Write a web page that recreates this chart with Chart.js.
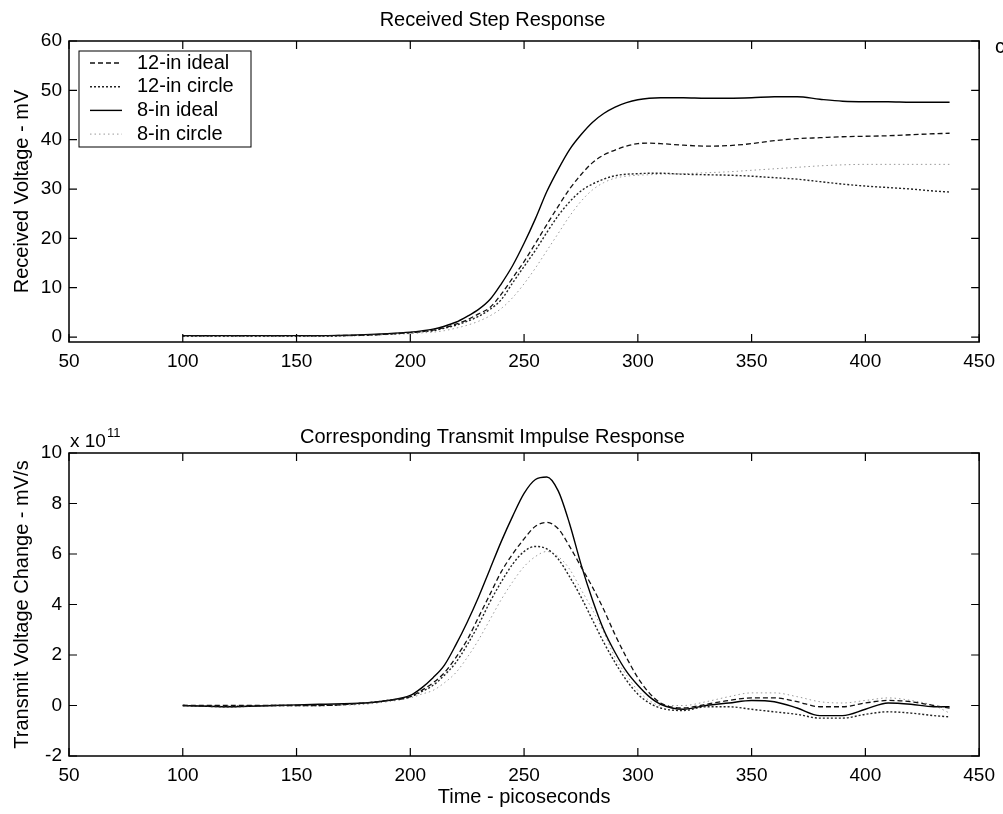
<!DOCTYPE html>
<html>
<head>
<meta charset="utf-8">
<script src="https://cdn.jsdelivr.net/npm/chart.js@4.4.1/dist/chart.umd.min.js"></script>
<style>
  body { margin: 0; background: #fff; }
  #wrap { position: relative; width: 1003px; height: 814px; }
  canvas { position: absolute; left: 0; }
  #topChart { top: 0; }
  #bottomChart { top: 400px; }
</style>
</head>
<body>
<div id="wrap">
  <canvas id="topChart" width="1003" height="400"></canvas>
  <canvas id="bottomChart" width="1003" height="414"></canvas>
</div>
<script>
// time axis, picoseconds
const time = [100,120,140,160,180,190,200,205,210,215,220,225,230,235,240,245,250,255,260,265,270,275,280,285,290,295,300,305,310,320,330,340,350,360,370,380,390,400,410,420,430,437]

const labels = ['12-in ideal', '12-in circle', '8-in ideal', '8-in circle']

// received step response, mV
const step12Ideal = [0.3,0.3,0.3,0.3,0.4,0.6,0.9,1.1,1.4,1.9,2.6,3.5,4.7,6.0,8.7,12.0,15.3,19.0,22.8,26.5,30.0,32.9,35.3,36.9,37.9,38.7,39.2,39.3,39.2,38.9,38.7,38.8,39.2,39.8,40.2,40.4,40.6,40.7,40.8,41.0,41.2,41.3]
const step12Circle = [0.2,0.2,0.2,0.2,0.4,0.6,0.9,1.1,1.3,1.8,2.4,3.2,4.2,5.6,7.6,11.0,14.3,17.6,21.2,24.6,27.4,29.6,31.0,32.0,32.7,33.0,33.1,33.2,33.2,33.0,32.9,32.8,32.6,32.3,32.0,31.5,31.0,30.6,30.3,30.0,29.6,29.4]
const step8Ideal = [0.3,0.3,0.3,0.3,0.5,0.7,1.0,1.25,1.6,2.2,3.0,4.2,5.6,7.6,10.8,14.5,19.0,24.0,29.5,34.0,38.0,41.0,43.5,45.3,46.6,47.5,48.1,48.4,48.5,48.5,48.4,48.4,48.5,48.7,48.7,48.2,47.8,47.7,47.7,47.6,47.6,47.6]
const step8Circle = [0.1,0.1,0.1,0.1,0.3,0.5,0.7,0.85,1.0,1.3,1.8,2.4,3.2,4.3,5.8,8.0,10.8,14.0,17.5,21.0,24.5,27.5,29.8,31.3,32.2,32.6,32.8,32.9,33.0,33.1,33.3,33.5,33.8,34.1,34.4,34.7,34.9,35.0,35.0,35.0,35.0,35.0]

// transmit impulse response, x 10^11 mV/s
const impulse12Ideal = [0.0,0.0,0.0,0.0,0.1,0.2,0.35,0.6,0.9,1.3,1.9,2.6,3.5,4.4,5.3,6.0,6.6,7.1,7.25,7.0,6.3,5.5,4.7,3.8,2.8,1.9,1.1,0.5,0.1,-0.1,0.05,0.2,0.3,0.3,0.15,-0.05,-0.05,0.1,0.2,0.15,0.0,-0.1]
const impulse12Circle = [0.0,-0.05,0.0,0.0,0.1,0.2,0.35,0.55,0.8,1.2,1.7,2.4,3.2,4.1,4.9,5.6,6.1,6.3,6.2,5.8,5.1,4.3,3.4,2.5,1.7,1.0,0.45,0.1,-0.1,-0.2,-0.05,-0.05,-0.15,-0.25,-0.35,-0.5,-0.5,-0.35,-0.25,-0.3,-0.4,-0.45]
const impulse8Ideal = [0.0,-0.05,0.0,0.05,0.1,0.2,0.4,0.7,1.1,1.6,2.4,3.3,4.3,5.4,6.5,7.5,8.4,8.95,9.05,8.5,7.2,5.6,4.2,3.0,2.1,1.35,0.8,0.35,0.05,-0.15,0.0,0.1,0.2,0.15,-0.1,-0.4,-0.4,-0.15,0.1,0.05,-0.05,-0.05]
const impulse8Circle = [0.0,0.0,0.0,0.0,0.05,0.15,0.3,0.45,0.6,0.9,1.3,1.9,2.6,3.4,4.2,4.9,5.5,5.9,6.1,5.9,5.4,4.6,3.8,2.9,1.9,1.2,0.6,0.2,0.0,0.0,0.15,0.35,0.5,0.5,0.35,0.15,0.1,0.2,0.3,0.2,0.0,-0.3]

const xTicks = [50,100,150,200,250,300,350,400,450]
const stepTicks = [0,10,20,30,40,50,60]
const impulseTicks = [-2,0,2,4,6,8,10]

const fontFamily = '"Liberation Sans", Arial, sans-serif'
const styles = [
  {color: '#111', width: 1.3, dash: [5, 3]},
  {color: '#222', width: 1.4, dash: [2, 2]},
  {color: '#000', width: 1.4, dash: []},
  {color: '#999', width: 1.0, dash: [1.5, 3]}
]

const makeSets = function (series) {
  return series.map((vals, i) => ({
    label: labels[i],
    data: vals.map((v, j) => ({x: time[j], y: v})),
    borderColor: styles[i].color,
    borderWidth: styles[i].width,
    borderDash: styles[i].dash,
    pointRadius: 0,
    cubicInterpolationMode: 'monotone',
    fill: false
  }))
}

// matlab-ish box with inward ticks on all four sides
const boxPlugin = {
  id: 'box',
  afterDatasetsDraw(chart) {
    const {ctx, chartArea: a, scales} = chart
    ctx.save()
    ctx.strokeStyle = '#000'
    ctx.lineWidth = 1.5
    ctx.strokeRect(a.left, a.top, a.right - a.left, a.bottom - a.top)
    ctx.lineWidth = 1.2
    ctx.beginPath()
    scales.x.ticks.forEach(t => {
      const px = scales.x.getPixelForValue(t.value)
      ctx.moveTo(px, a.bottom); ctx.lineTo(px, a.bottom - 8)
      ctx.moveTo(px, a.top); ctx.lineTo(px, a.top + 8)
    })
    scales.y.ticks.forEach(t => {
      const py = scales.y.getPixelForValue(t.value)
      ctx.moveTo(a.left, py); ctx.lineTo(a.left + 8, py)
      ctx.moveTo(a.right, py); ctx.lineTo(a.right - 8, py)
    })
    ctx.stroke()
    ctx.restore()
  }
}

const legendPlugin = {
  id: 'boxLegend',
  afterDraw(chart) {
    const {ctx, chartArea: a} = chart
    const left = a.left + 10, top = a.top + 10
    ctx.save()
    ctx.fillStyle = '#fff'
    ctx.fillRect(left, top, 172, 96)
    ctx.strokeStyle = '#000'
    ctx.lineWidth = 1
    ctx.strokeRect(left, top, 172, 96)
    ctx.font = '20px ' + fontFamily
    ctx.textBaseline = 'middle'
    chart.data.datasets.forEach((ds, i) => {
      const y = top + 12 + i * 23.7
      ctx.strokeStyle = ds.borderColor
      ctx.lineWidth = ds.borderWidth
      ctx.setLineDash(ds.borderDash)
      ctx.beginPath()
      ctx.moveTo(left + 11, y)
      ctx.lineTo(left + 43, y)
      ctx.stroke()
      ctx.setLineDash([])
      ctx.fillStyle = '#000'
      ctx.fillText(ds.label, left + 58, y)
    })
    // stray character cut off at the right edge of the scan
    ctx.fillText('c', chart.width - 8, a.top + 6)
    ctx.restore()
  }
}

const exponentPlugin = {
  id: 'exponent',
  afterDraw(chart) {
    const {ctx, chartArea: a} = chart
    ctx.save()
    ctx.fillStyle = '#000'
    ctx.textBaseline = 'alphabetic'
    ctx.font = '19px ' + fontFamily
    ctx.fillText('x 10', a.left + 1, a.top - 6)
    const w = ctx.measureText('x 10').width
    ctx.font = '13px ' + fontFamily
    ctx.fillText('11', a.left + 2 + w, a.top - 16)
    ctx.restore()
  }
}

const makeOptions = function (title, titlePad, yTicks, yMin, yMax, yTitle, xTitle) {
  return {
    responsive: false,
    animation: false,
    layout: {padding: {left: 0, right: 18, top: 0, bottom: 0}},
    plugins: {
      legend: {display: false},
      tooltip: {enabled: false},
      title: {
        display: true,
        text: title,
        color: '#000',
        font: {family: fontFamily, size: 20, weight: 'normal'},
        padding: titlePad
      }
    },
    scales: {
      x: {
        type: 'linear',
        min: 50,
        max: 450,
        afterBuildTicks: s => { s.ticks = xTicks.map(v => ({value: v})) },
        afterFit: s => { s.height = 58 },
        grid: {display: false, drawTicks: false},
        border: {display: false},
        ticks: {color: '#000', padding: 8, autoSkip: false, maxRotation: 0,
          font: {family: fontFamily, size: 19}},
        title: {
          display: !!xTitle,
          text: xTitle,
          color: '#000',
          font: {family: fontFamily, size: 20},
          padding: {top: 0, bottom: 5}
        }
      },
      y: {
        type: 'linear',
        min: yMin,
        max: yMax,
        afterBuildTicks: s => { s.ticks = yTicks.map(v => ({value: v})) },
        afterFit: s => { s.width = 69 },
        grid: {display: false, drawTicks: false},
        border: {display: false},
        ticks: {color: '#000', padding: 7, font: {family: fontFamily, size: 19}},
        title: {
          display: true,
          text: yTitle,
          color: '#000',
          font: {family: fontFamily, size: 20},
          padding: {top: 10, bottom: 0}
        }
      }
    }
  }
}

new Chart(document.getElementById('topChart'), {
  type: 'line',
  data: {datasets: makeSets([step12Ideal, step12Circle, step8Ideal, step8Circle])},
  options: makeOptions('Received Step Response', {top: 8, bottom: 9},
    stepTicks, -1, 60, 'Received Voltage - mV', ''),
  plugins: [boxPlugin, legendPlugin]
})

new Chart(document.getElementById('bottomChart'), {
  type: 'line',
  data: {datasets: makeSets([impulse12Ideal, impulse12Circle, impulse8Ideal, impulse8Circle])},
  options: makeOptions('Corresponding Transmit Impulse Response', {top: 25, bottom: 4},
    impulseTicks, -2, 10, 'Transmit Voltage Change - mV/s', 'Time - picoseconds'),
  plugins: [boxPlugin, exponentPlugin]
})
</script>
</body>
</html>
